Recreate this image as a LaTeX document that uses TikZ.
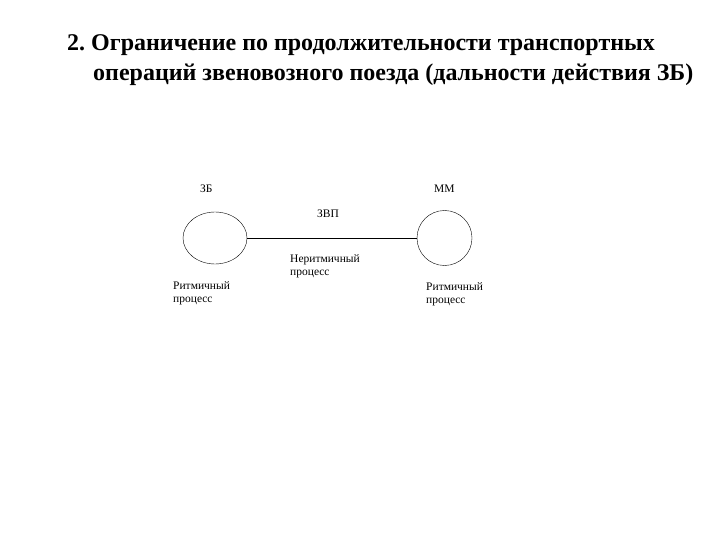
\documentclass[tikz,border=0pt]{standalone}
\usepackage{fontspec}
\setmainfont{Liberation Serif}
\usepackage{tikz}
\usetikzlibrary{shapes.geometric}
\frenchspacing

\begin{document}
\begin{tikzpicture}[x=1pt,y=-1pt]
		\useasboundingbox (0,0) rectangle (720,540);
		\tikzset{lbl/.style={anchor=base west,inner sep=0pt,font=\fontsize{11.5}{12.5}\selectfont,align=left},
			ttl/.style={anchor=base west,inner sep=0pt,font=\fontsize{24}{26}\selectfont\bfseries}}
		\node[ttl] (T1) at (67,51) {2. Ограничение по продолжительности транспортных};
		\node[ttl] (T2) at (93,81) {операций звеновозного поезда (дальности действия ЗБ)};
		%
		\node[draw,ellipse,inner sep=0pt,minimum width=64pt,minimum height=52pt] (ZB) at (215,238) {};
		\node[draw,circle,inner sep=0pt,minimum size=55pt] (MM) at (444.5,238) {};
		%
		\node[lbl] (zb) at (200,193) {ЗБ};
		\node[lbl] (mm) at (434,193) {ММ};
		\node[lbl] (zvp) at (317,218) {ЗВП};
		\node[lbl] (nrp) at (290,275) {Неритмичный\\процесс};
		\node[lbl] (rp1) at (173,302) {Ритмичный\\процесс};
		\node[lbl] (rp2) at (426,303) {Ритмичный\\процесс};
		%
		\path[-,line width=0.8pt]
		(ZB) edge (MM);
		\end{tikzpicture}
\end{document}
